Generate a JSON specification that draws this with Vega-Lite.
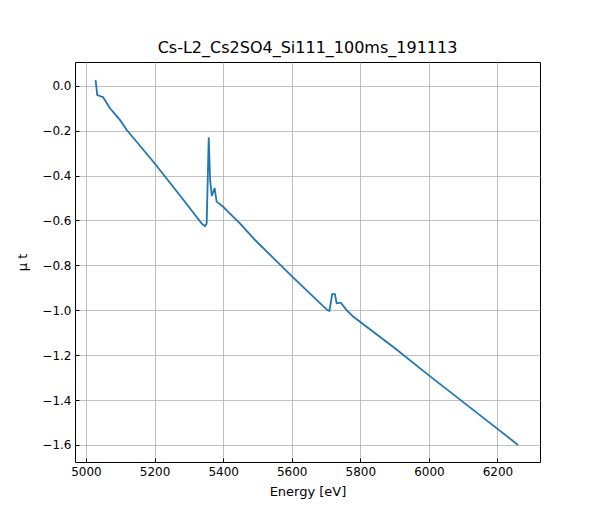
{
  "$schema": "https://vega.github.io/schema/vega-lite/v6.json",
  "autosize": "none",
  "padding": {"left": 75, "top": 62, "right": 60, "bottom": 58},
  "width": 465,
  "height": 400,
  "background": "white",
  "title": {"text": "Cs-L2_Cs2SO4_Si111_100ms_191113", "font": "DejaVu Sans", "fontSize": 16, "fontWeight": "normal", "offset": 6},
  "config": {
    "view": {"stroke": "black", "strokeWidth": 1},
    "axis": {"labelFont": "DejaVu Sans", "titleFont": "DejaVu Sans", "labelFontSize": 12, "titleFontSize": 13, "titleFontWeight": "normal", "labelColor": "black", "titleColor": "black", "gridColor": "#b0b0b0", "gridWidth": 0.8, "tickColor": "black", "tickSize": 4, "tickOffset": 0, "domain": false}
  },
  "data": {"values": [
    {"e": 5028, "mu": 0.026}, {"e": 5033, "mu": -0.041}, {"e": 5050, "mu": -0.051},
    {"e": 5070, "mu": -0.100}, {"e": 5099, "mu": -0.152}, {"e": 5119, "mu": -0.197},
    {"e": 5200, "mu": -0.345}, {"e": 5280, "mu": -0.500}, {"e": 5337, "mu": -0.613},
    {"e": 5347, "mu": -0.625}, {"e": 5352, "mu": -0.613}, {"e": 5358, "mu": -0.229},
    {"e": 5362, "mu": -0.420}, {"e": 5367, "mu": -0.491}, {"e": 5375, "mu": -0.455},
    {"e": 5381, "mu": -0.516}, {"e": 5400, "mu": -0.539}, {"e": 5414, "mu": -0.561},
    {"e": 5449, "mu": -0.613}, {"e": 5493, "mu": -0.687}, {"e": 5600, "mu": -0.848},
    {"e": 5703, "mu": -0.998}, {"e": 5710, "mu": -1.003}, {"e": 5718, "mu": -0.928},
    {"e": 5726, "mu": -0.928}, {"e": 5731, "mu": -0.969}, {"e": 5743, "mu": -0.966},
    {"e": 5760, "mu": -0.999}, {"e": 5780, "mu": -1.029}, {"e": 5900, "mu": -1.168},
    {"e": 6000, "mu": -1.290}, {"e": 6130, "mu": -1.445}, {"e": 6260, "mu": -1.600}
  ]},
  "mark": {"type": "line", "color": "#1f77b4", "strokeWidth": 1.8, "clip": true},
  "encoding": {
    "x": {"field": "e", "type": "quantitative", "title": "Energy [eV]",
      "scale": {"domain": [4968, 6324], "nice": false, "zero": false},
      "axis": {"values": [5000, 5200, 5400, 5600, 5800, 6000, 6200], "format": "d", "tickSize": -4, "labelPadding": 8, "titlePadding": 8}},
    "y": {"field": "mu", "type": "quantitative", "title": "μ t",
      "scale": {"domain": [-1.676, 0.106], "nice": false, "zero": false},
      "axis": {"values": [0, -0.2, -0.4, -0.6, -0.8, -1, -1.2, -1.4, -1.6], "format": ".1f", "tickSize": -4, "labelPadding": 8, "titlePadding": 12}}
  }
}
